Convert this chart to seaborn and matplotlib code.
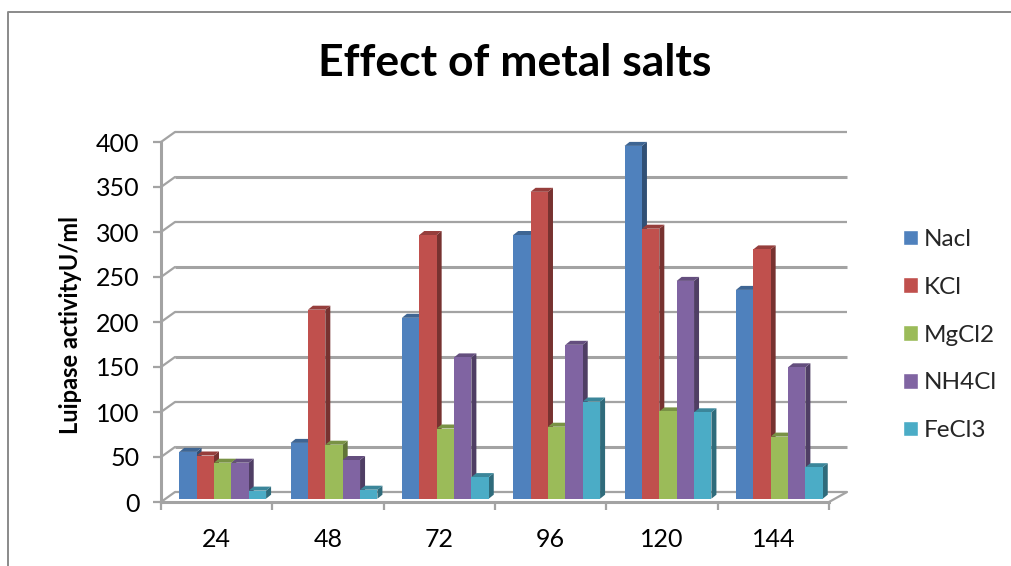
import pandas as pd
import numpy as np
import matplotlib.pyplot as plt
import seaborn as sns
from matplotlib.colors import to_rgb
from matplotlib.lines import Line2D
from matplotlib.patches import Polygon
from matplotlib.transforms import Affine2D

hours = ['24', '48', '72', '96', '120', '144']
nacl = [52, 62, 201, 293, 392, 232]
kcl = [48, 210, 293, 341, 300, 277]
mgcl2 = [40, 60, 78, 80, 97, 69]
nh4cl = [40, 43, 157, 171, 242, 146]
fecl3 = [9, 10, 24, 108, 96, 35]
salts = ['Nacl', 'KCl', 'MgCl2', 'NH4Cl', 'FeCl3']
colors = ['#4F81BD', '#C0504D', '#9BBB59', '#8064A2', '#4BACC6']
y_ticks = [0, 50, 100, 150, 200, 250, 300, 350, 400]

df = pd.DataFrame({'hour': hours, 'Nacl': nacl, 'KCl': kcl, 'MgCl2': mgcl2,
                   'NH4Cl': nh4cl, 'FeCl3': fecl3})
long_df = df.melt(id_vars='hour', var_name='salt', value_name='activity')

sns.set_theme(style='white')
plt.rcParams['font.family'] = ['Lato', 'DejaVu Sans']
W, H = 1011, 566
GRAY = '#A3A3A3'

fig = plt.figure(figsize=(W / 100, H / 100), dpi=100)
ax = fig.add_axes([161 / W, (H - 502) / H, 668 / W, 360 / H])
sns.barplot(data=long_df, x='hour', y='activity', hue='salt', order=hours,
            hue_order=salts, palette=colors, saturation=1, width=0.78, gap=0, ax=ax)
ax.set_xlim(-0.5, 5.5)
ax.set_ylim(0, 400)

# data units per pixel
px_x = 6 / 668
px_y = 400 / 360

# back wall and floor
back_dx, back_dy = 14 * px_x, 10 * px_y
for t in y_ticks:
    lw = 2.2 if t in (50, 150, 250, 350) else 1.6
    ax.plot([-0.5 + back_dx, 5.5 + back_dx + 4 * px_x], [t + back_dy] * 2, color=GRAY, lw=lw,
            clip_on=False, zorder=1, solid_capstyle='butt')
    ax.plot([-0.5, -0.5 + back_dx], [t, t + back_dy], color=GRAY, lw=1.6, clip_on=False, zorder=1)
ax.plot([5.5, 5.5 + back_dx + 4 * px_x], [0, back_dy], color=GRAY, lw=1.6, clip_on=False, zorder=1)

# bars sit a little inside the floor, with a side and a top face
bar_dx, bar_dy = 6 * px_x, 3.3 * px_y
side_dx, side_dy = 5 * px_x, 4 * px_y
n = 0
for g in range(len(hours)):
    for s, cont in enumerate(ax.containers):
        bar = cont[g]
        x0, w, h = bar.get_x() + bar_dx, bar.get_width(), bar.get_height()
        base = bar_dy
        z = 3 + n * 0.01
        c = np.array(to_rgb(colors[s]))
        ax.add_patch(Polygon([(x0 + w, base), (x0 + w + side_dx, base + side_dy),
                              (x0 + w + side_dx, base + h + side_dy), (x0 + w, base + h)],
                             fc=c * 0.62, ec='none', clip_on=False, zorder=z))
        ax.add_patch(Polygon([(x0, base + h), (x0 + side_dx, base + h + side_dy),
                              (x0 + w + side_dx, base + h + side_dy), (x0 + w, base + h)],
                             fc=c * 0.78, ec='none', clip_on=False, zorder=z))
        bar.set_x(x0)
        bar.set_y(base)
        bar.set_edgecolor('none')
        bar.set_linewidth(0)
        bar.set_clip_on(False)
        bar.set_zorder(z + 0.001)
        n += 1

# axes
sns.despine(ax=ax, top=True, right=True)
for side in ['left', 'bottom']:
    ax.spines[side].set_color(GRAY)
    ax.spines[side].set_linewidth(2.2)
ax.set_yticks(y_ticks)
ax.set_xticks(np.arange(-0.5, 6), minor=True)
ax.tick_params(axis='y', which='major', left=True, length=5.5, width=1.6, color=GRAY,
               labelsize=18, pad=10, labelcolor='black')
ax.tick_params(axis='x', which='minor', bottom=True, length=5.5, width=1.6, color=GRAY)
ax.tick_params(axis='x', which='major', bottom=False, labelsize=18, pad=13, labelcolor='black')
ax.set_xlabel('')
ax.set_ylabel('')
fig.text(70 / W, 1 - 325 / H, 'Luipase activityU/ml', rotation=90, ha='center', va='center',
         fontsize=17, fontweight='bold', color='black')
fig.text(515 / W, 1 - 63 / H, 'Effect of metal salts', ha='center', va='center',
         fontsize=32, fontweight='bold', color='black')

sns.move_legend(ax, 'center left', bbox_to_anchor=(903 / W, 1 - 335 / H),
                bbox_transform=fig.transFigure, frameon=False, title=None, fontsize=17.5,
                handlelength=0.62, handleheight=0.62, handletextpad=0.25, labelspacing=1.1,
                borderpad=0, borderaxespad=0)

# chart area border, cropped by the picture
fig.add_artist(Line2D([8 / W, 8 / W, 1], [0, 1 - 12 / H, 1 - 12 / H], color='#8A8A8A', lw=1.4))

fig.savefig('out.png', dpi=100)
